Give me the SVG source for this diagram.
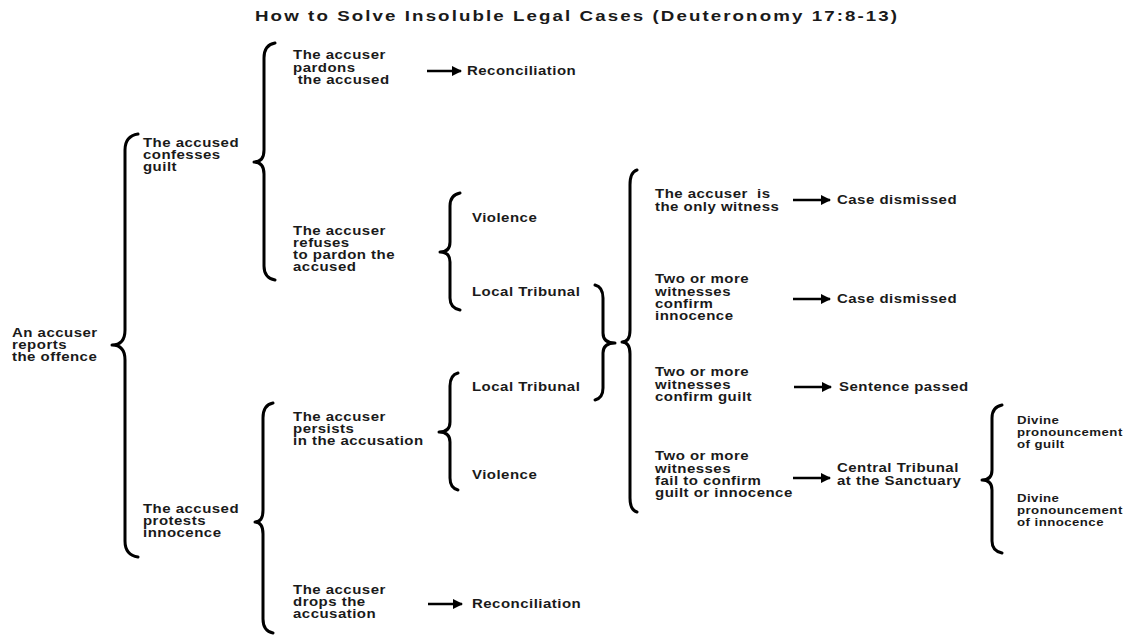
<svg xmlns="http://www.w3.org/2000/svg" width="1145" height="636" viewBox="0 0 1145 636">
<defs>
<style>
.t{font-family:"Liberation Sans",Arial,sans-serif;font-weight:bold;font-size:12.5px;letter-spacing:0.4px;fill:#1a1a1a}
.s{font-size:11.5px}
.title{font-family:"Liberation Sans",Arial,sans-serif;font-weight:bold;font-size:15px;fill:#1a1a1a}
.br{fill:none;stroke:#000;stroke-width:3;stroke-linecap:round;stroke-linejoin:round}
.ar{fill:none;stroke:#000;stroke-width:2.6}
</style>
<marker id="ah" viewBox="0 0 10 10" refX="9" refY="5" markerWidth="4" markerHeight="4" orient="auto" markerUnits="strokeWidth">
<path d="M0,0 L10,5 L0,10 Z" fill="#000"/>
</marker>
</defs>
<rect width="1145" height="636" fill="#fff"/>
<g id="title" transform="matrix(1.25,0,0,1,-63.75,0)"><text class="title" x="255" y="21" textLength="513.6" lengthAdjust="spacing">How to Solve Insoluble Legal Cases (Deuteronomy 17:8-13)</text></g>

<g id="braces">
<path class="br" d="M138,134 Q125,136 125,150 L125,330 Q125,345 112,345 Q125,345 125,360 L125,541 Q125,555 138,557"/>
<path class="br" d="M275,43 Q264,45 264,58 L264,150 Q264,162 254,162 Q264,162 264,174 L264,266 Q264,278 275,280"/>
<path class="br" d="M460,193 Q450,195 450,206 L450,242 Q450,252 440,252 Q450,252 450,262 L450,298 Q450,308 460,310"/>
<path class="br" d="M595,285 Q603,287 603,298 L603,333 Q603,343 615,343 Q603,343 603,353 L603,388 Q603,398 595,400"/>
<path class="br" d="M458,373 Q450,375 450,386 L450,422 Q450,432 439,432 Q450,432 450,442 L450,478 Q450,488 458,490"/>
<path class="br" d="M637,170 Q630,172 630,185 L630,330 Q630,342 622,342 Q630,342 630,354 L630,498 Q630,510 637,512"/>
<path class="br" d="M1002,405 Q992,407 992,418 L992,470 Q992,480 982,480 Q992,480 992,490 L992,541 Q992,551 1002,553"/>
<path class="br" d="M273,403 Q263,405 263,418 L263,510 Q263,522 255,522 Q263,522 263,534 L263,619 Q263,631 273,633"/>
</g>

<g id="connectors">
<line class="ar" x1="427" y1="71" x2="461" y2="71" marker-end="url(#ah)"/>
<line class="ar" x1="428" y1="604" x2="462" y2="604" marker-end="url(#ah)"/>
<line class="ar" x1="793" y1="200" x2="830" y2="200" marker-end="url(#ah)"/>
<line class="ar" x1="793" y1="299" x2="830" y2="299" marker-end="url(#ah)"/>
<line class="ar" x1="794" y1="387" x2="831" y2="387" marker-end="url(#ah)"/>
<line class="ar" x1="793" y1="478" x2="830" y2="478" marker-end="url(#ah)"/>
</g>

<g id="n-root" transform="matrix(1.2,0,0,1,-2.4,0)"><text class="t" x="12" y="337">An accuser</text><text class="t" x="12" y="349">reports</text><text class="t" x="12" y="361">the offence</text></g>
<g id="n-confess" transform="matrix(1.2,0,0,1,-28.6,0)"><text class="t" x="143" y="147">The accused</text><text class="t" x="143" y="159">confesses</text><text class="t" x="143" y="171">guilt</text></g>
<g id="n-protest" transform="matrix(1.2,0,0,1,-28.6,0)"><text class="t" x="143" y="513">The accused</text><text class="t" x="143" y="525">protests</text><text class="t" x="143" y="537">innocence</text></g>
<g id="n-pardons" transform="matrix(1.2,0,0,1,-58.6,0)"><text class="t" x="293" y="59">The accuser</text><text class="t" x="293" y="72">pardons</text><text class="t" x="293" y="84" xml:space="preserve"> the accused</text></g>
<g id="n-recon1" transform="matrix(1.2,0,0,1,-93.4,0)"><text class="t" x="467" y="75">Reconciliation</text></g>
<g id="n-refuses" transform="matrix(1.2,0,0,1,-58.6,0)"><text class="t" x="293" y="235">The accuser</text><text class="t" x="293" y="247">refuses</text><text class="t" x="293" y="259">to pardon the</text><text class="t" x="293" y="271">accused</text></g>
<g id="n-viol1" transform="matrix(1.2,0,0,1,-94.4,0)"><text class="t" x="472" y="222">Violence</text></g>
<g id="n-local1" transform="matrix(1.2,0,0,1,-94.4,0)"><text class="t" x="472" y="296">Local Tribunal</text></g>
<g id="n-local2" transform="matrix(1.2,0,0,1,-94.4,0)"><text class="t" x="472" y="391">Local Tribunal</text></g>
<g id="n-persists" transform="matrix(1.2,0,0,1,-58.6,0)"><text class="t" x="293" y="421">The accuser</text><text class="t" x="293" y="433">persists</text><text class="t" x="293" y="445">in the accusation</text></g>
<g id="n-viol2" transform="matrix(1.2,0,0,1,-94.4,0)"><text class="t" x="472" y="479">Violence</text></g>
<g id="n-drops" transform="matrix(1.2,0,0,1,-58.6,0)"><text class="t" x="293" y="594">The accuser</text><text class="t" x="293" y="606">drops the</text><text class="t" x="293" y="618">accusation</text></g>
<g id="n-recon2" transform="matrix(1.2,0,0,1,-94.4,0)"><text class="t" x="472" y="608">Reconciliation</text></g>
<g id="n-only" transform="matrix(1.2,0,0,1,-131,0)"><text class="t" x="655" y="198" xml:space="preserve">The accuser  is</text><text class="t" x="655" y="211">the only witness</text></g>
<g id="n-dism1" transform="matrix(1.2,0,0,1,-167.4,0)"><text class="t" x="837" y="204">Case dismissed</text></g>
<g id="n-innoc" transform="matrix(1.2,0,0,1,-131,0)"><text class="t" x="655" y="283">Two or more</text><text class="t" x="655" y="296">witnesses</text><text class="t" x="655" y="308">confirm</text><text class="t" x="655" y="320">innocence</text></g>
<g id="n-dism2" transform="matrix(1.2,0,0,1,-167.4,0)"><text class="t" x="837" y="303">Case dismissed</text></g>
<g id="n-guilt" transform="matrix(1.2,0,0,1,-131,0)"><text class="t" x="655" y="376">Two or more</text><text class="t" x="655" y="389">witnesses</text><text class="t" x="655" y="401">confirm guilt</text></g>
<g id="n-sentence" transform="matrix(1.2,0,0,1,-167.8,0)"><text class="t" x="839" y="391">Sentence passed</text></g>
<g id="n-fail" transform="matrix(1.2,0,0,1,-131,0)"><text class="t" x="655" y="460">Two or more</text><text class="t" x="655" y="473">witnesses</text><text class="t" x="655" y="485">fail to confirm</text><text class="t" x="655" y="497">guilt or innocence</text></g>
<g id="n-central" transform="matrix(1.2,0,0,1,-167.4,0)"><text class="t" x="837" y="472">Central Tribunal</text><text class="t" x="837" y="485">at the Sanctuary</text></g>
<g id="n-divguilt" transform="matrix(1.15,0,0,1,-152.55,0)"><text class="t s" x="1017" y="424">Divine</text><text class="t s" x="1017" y="436">pronouncement</text><text class="t s" x="1017" y="448">of guilt</text></g>
<g id="n-divinno" transform="matrix(1.15,0,0,1,-152.55,0)"><text class="t s" x="1017" y="502">Divine</text><text class="t s" x="1017" y="514">pronouncement</text><text class="t s" x="1017" y="526">of innocence</text></g>
</svg>
